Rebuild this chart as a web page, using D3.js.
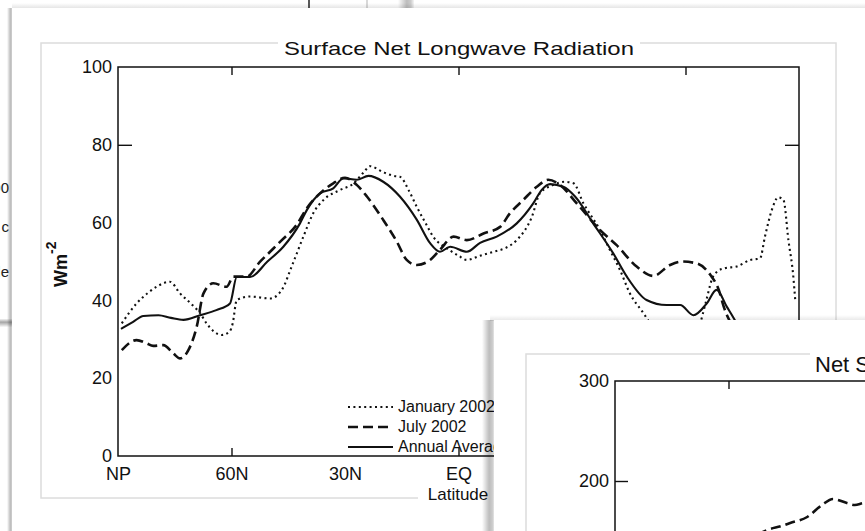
<!DOCTYPE html>
<html>
<head>
<meta charset="utf-8">
<script src="https://cdn.jsdelivr.net/npm/d3@7"></script>
<style>
  html, body { margin: 0; padding: 0; background: #fff; }
  svg { display: block; font-family: "Liberation Sans", Arial, Helvetica, sans-serif; }
</style>
</head>
<body>
<svg id="fig" width="865" height="531"></svg>
<script>
// ---- data -------------------------------------------------------------
// Latitude axis (North Pole to South Pole)
const latTicks  = [90, 60, 30, 0, -30, -60, -90];
const latLabels = ["NP", "60N", "30N", "EQ", "30S", "60S", "SP"];
const latMarks  = [60, 0, -60];          // tick marks drawn on the frame
const lwTicks   = [0, 20, 40, 60, 80, 100];
const lwMarks   = [80];

// Surface net longwave radiation, W m^-2, as [latitude, value]
const january2002 = [
  [89, 34.1], [85.1, 39.2], [82, 42], [79.8, 43.5], [76.3, 44.8], [73.6, 41.8],
  [70, 38.5], [68.3, 36.7], [66.6, 34.1], [62.6, 31.1], [60.5, 32], [59.7, 34],
  [58.6, 40.1], [55.1, 41], [49.8, 40.5], [46.7, 42.7], [44.1, 48.7], [41, 56.4],
  [38.4, 62.4], [35.7, 65.8], [31.3, 68.4], [27.8, 70], [25, 73], [23.4, 74.5],
  [20, 73], [17, 72], [15.5, 71.8], [13, 68], [11, 64], [8.5, 59.5], [6.7, 56.4],
  [3.1, 53.4], [0, 51.5], [-2.2, 50.4], [-5.7, 51.5], [-9.2, 52.5], [-12.5, 53.5],
  [-15.4, 55.5], [-19.4, 61.5], [-21.5, 67.5], [-25.1, 69.7], [-28, 70.5],
  [-30.4, 70.1], [-33, 65], [-37.4, 58.1], [-40, 53], [-42.7, 47.8], [-45.3, 41.8],
  [-48.9, 36.7], [-50.6, 34.2], [-53, 31], [-57, 28], [-61, 29.5], [-63.5, 33],
  [-65.5, 40], [-67, 45.5], [-68.5, 47.5], [-70.5, 48.3], [-73.5, 48.7],
  [-77.1, 50.4], [-79.7, 50.8], [-81, 56.4], [-82.8, 63.2], [-84.5, 66.5],
  [-85.9, 65.8], [-87.2, 55.5], [-88.5, 46.1], [-89, 40.1]
];
const july2002 = [
  [89, 27.2], [85.1, 29.8], [82.5, 29], [80.7, 28.3], [78, 28.5], [75.5, 26.5],
  [73.6, 25.1], [71.4, 27.2], [69.2, 33.2], [67.4, 41.8], [64.8, 44.4], [61.3, 43.5],
  [59.5, 46.1], [56, 46.1], [52.5, 49.9], [49.8, 52.5], [46.7, 55.5], [42.8, 59.4],
  [40.1, 63.7], [36.6, 67.5], [33.1, 70.1], [30, 71.5], [26.9, 69.7], [24.2, 66.7],
  [19.9, 60.7], [16.3, 55.1], [13.7, 50.4], [11, 49.1], [7.5, 50.4], [4.9, 53],
  [1.3, 56.4], [-2.2, 55.5], [-6.6, 57.2], [-11, 58.9], [-13.6, 62.4], [-17.1, 65.8],
  [-20.7, 69.2], [-23.7, 71], [-26.8, 69.7], [-31.2, 65], [-37.4, 58.1], [-41.8, 54.2],
  [-47.1, 48.7], [-51.5, 46.3], [-55.9, 49.1], [-59, 50], [-63, 49.5], [-66.6, 46.5],
  [-68.8, 42.7], [-70.1, 38.4], [-71.9, 34.2], [-74, 30]
];
const annualAverage = [
  [89, 32.8], [86, 34.5], [83.3, 36], [79.3, 36.2], [76, 35.5], [72.7, 35],
  [68.3, 36.2], [64, 37.5], [60.4, 39.2], [58.6, 46], [55.1, 46], [50.5, 50],
  [46.3, 53.8], [41.9, 59.8], [40.1, 63.2], [36.6, 67.5], [33.1, 68.8], [30.4, 71.4],
  [26.9, 71], [23.8, 72], [19.9, 70.5], [15.5, 66.7], [11, 60.7], [7.5, 54.7],
  [4.9, 52.5], [2.2, 53.8], [-2.2, 52.5], [-5.7, 54.8], [-10.1, 56.4], [-15.4, 59.8],
  [-19.8, 65], [-22, 68.4], [-24.2, 69.9], [-27.7, 69.2], [-30.8, 66.7], [-35.6, 59.8],
  [-40.9, 52.1], [-44.5, 46.1], [-49.7, 40.1], [-55, 38.8], [-58.6, 38.8], [-62.1, 36.2],
  [-65.6, 39.2], [-68.2, 42.7], [-70.9, 38.4], [-73.5, 34.1], [-76, 29]
];

const seriesNames = ["January 2002", "July 2002", "Annual Average"];

// Net shortwave radiation panel (W m^-2)
const swTicks = [0, 100, 200, 300];
const swMarks = [200];
const swJuly2002 = [
  [56, 140], [52, 147], [49.8, 151], [46, 155], [43.7, 158], [39.2, 164],
  [35.3, 176], [32.4, 182], [28.7, 178], [26.6, 176], [24, 178], [20, 172]
];

// ---- drawing ----------------------------------------------------------
const W = 865, H = 531;
const WIN2_X = 494, WIN2_Y = 320;   // top-left corner of the front window
const svg = d3.select("#fig");
const defs = svg.append("defs");

function gradient(id, vertical, stops) {
  const g = defs.append("linearGradient").attr("id", id)
    .attr("x1", 0).attr("y1", 0)
    .attr("x2", vertical ? 0 : 1).attr("y2", vertical ? 1 : 0);
  stops.forEach(([o, a]) => g.append("stop").attr("offset", o)
    .attr("stop-color", "#000").attr("stop-opacity", a));
}
gradient("edgeL", false, [[0, 0], [0.55, 0.26], [0.8, 0.2], [1, 0.04]]);
gradient("edgeT", true, [[0, 0], [1, 0.10]]);
gradient("barT", true, [[0, 0.05], [0.4, 0.35], [1, 0.02]]);

svg.append("rect").attr("width", W).attr("height", H).attr("fill", "#fff");

// windows lying behind the main figure
const back = svg.append("g");
back.append("line").attr("x1", 309).attr("x2", 309).attr("y1", 0).attr("y2", 9)
  .attr("stroke", "#222").attr("stroke-width", 1.5);
back.append("line").attr("x1", 367).attr("x2", 367).attr("y1", 0).attr("y2", 9)
  .attr("stroke", "#ccc").attr("stroke-width", 1.5);
back.append("rect").attr("x", 398).attr("y", 0).attr("width", 16).attr("height", 9)
  .attr("fill", "url(#edgeL)");
back.selectAll("text.frag")
  .data([["00", 193], ["c", 232], ["de", 277]])
  .join("text").attr("class", "frag")
  .attr("x", 9).attr("y", d => d[1])
  .attr("text-anchor", "end").attr("font-size", 15).attr("fill", "#222")
  .text(d => d[0]);
back.append("rect").attr("x", 0).attr("y", 319).attr("width", 12).attr("height", 8)
  .attr("fill", "url(#barT)");

// main figure window
svg.append("rect").attr("x", 7).attr("y", 8).attr("width", 6).attr("height", H - 8)
  .attr("fill", "url(#edgeL)");
svg.append("rect").attr("x", 12).attr("y", 3).attr("width", W - 12).attr("height", 5)
  .attr("fill", "url(#edgeT)");
svg.append("rect").attr("x", 12).attr("y", 8).attr("width", W - 12).attr("height", H - 8)
  .attr("fill", "#fff");
svg.append("rect").attr("x", 41).attr("y", 43).attr("width", 795).attr("height", 455)
  .attr("fill", "none").attr("stroke", "#dcdcdc").attr("stroke-width", 1.5);

const styles = [
  { dash: "2,3.4", width: 2.1, cap: "butt" },   // January
  { dash: "10,5",  width: 2.6, cap: "butt" },   // July
  { dash: null,    width: 2.1, cap: "round" }   // Annual
];

const x = d3.scaleLinear().domain([90, -90]).range([118, 799]);
const y = d3.scaleLinear().domain([0, 100]).range([456, 67]);

const main = svg.append("g");

function plain(g) { g.select(".domain").remove(); }

// tick labels (those under the front window are left out)
const shownLat = latTicks.filter(d => x(d) < WIN2_X);
main.append("g").attr("transform", "translate(0,456)")
  .call(d3.axisBottom(x).tickValues(shownLat).tickSize(0).tickPadding(11)
    .tickFormat(d => latLabels[latTicks.indexOf(d)]))
  .call(plain)
  .call(g => g.selectAll("text").attr("font-size", 18).attr("fill", "#111")
    .attr("font-family", null));
main.append("g").attr("transform", "translate(118,0)")
  .call(d3.axisLeft(y).tickValues(lwTicks).tickSize(0).tickPadding(6))
  .call(plain)
  .call(g => g.selectAll("text").attr("font-size", 18).attr("fill", "#111")
    .attr("font-family", null));

// inward tick marks on all four sides
const tickStyle = g => g.call(plain).call(s => s.selectAll("text").remove())
  .call(s => s.selectAll("line").attr("stroke", "#111").attr("stroke-width", 1.4));
main.append("g").attr("transform", "translate(0,456)")
  .call(d3.axisBottom(x).tickValues(latMarks).tickSize(-8)).call(tickStyle);
main.append("g").attr("transform", "translate(0,67)")
  .call(d3.axisTop(x).tickValues(latMarks).tickSize(-8)).call(tickStyle);
main.append("g").attr("transform", "translate(118,0)")
  .call(d3.axisLeft(y).tickValues(lwMarks).tickSize(-14)).call(tickStyle);
main.append("g").attr("transform", "translate(799,0)")
  .call(d3.axisRight(y).tickValues(lwMarks).tickSize(-14)).call(tickStyle);

main.append("rect").attr("x", 118).attr("y", 67).attr("width", 681).attr("height", 389)
  .attr("fill", "none").attr("stroke", "#111").attr("stroke-width", 1.5);

// curves
const line = d3.line().x(d => x(d[0])).y(d => y(d[1])).curve(d3.curveMonotoneX);
[january2002, july2002, annualAverage].forEach((data, i) => {
  main.append("path").datum(data)
    .attr("d", line)
    .attr("fill", "none").attr("stroke", "#111")
    .attr("stroke-width", styles[i].width)
    .attr("stroke-dasharray", styles[i].dash)
    .attr("stroke-linecap", styles[i].cap)
    .attr("stroke-linejoin", "round");
});

// title
main.append("rect").attr("x", 278).attr("y", 38).attr("width", 362).attr("height", 10)
  .attr("fill", "#fff");
main.append("text").attr("x", 459).attr("y", 55).attr("text-anchor", "middle")
  .attr("font-size", 19).attr("fill", "#111")
  .attr("textLength", 350).attr("lengthAdjust", "spacingAndGlyphs")
  .text("Surface Net Longwave Radiation");

// axis titles
main.append("rect").attr("x", 418).attr("y", 494).attr("width", 76).attr("height", 8)
  .attr("fill", "#fff");
main.append("text").attr("x", 458).attr("y", 500).attr("text-anchor", "middle")
  .attr("font-size", 17).attr("fill", "#111").text("Latitude");

const yl = main.append("text")
  .attr("transform", "translate(67,287) rotate(-90)")
  .attr("font-size", 18).attr("font-weight", "bold").attr("fill", "#111");
yl.append("tspan").text("Wm");
yl.append("tspan").attr("dy", -11).attr("font-size", 14).text("-2");

// legend
const legend = main.append("g");
seriesNames.forEach((name, i) => {
  const ly = 407 + i * 20;
  legend.append("line").attr("x1", 348).attr("x2", 393).attr("y1", ly).attr("y2", ly)
    .attr("stroke", "#111").attr("stroke-width", styles[i].width)
    .attr("stroke-dasharray", styles[i].dash);
  legend.append("text").attr("x", 398).attr("y", ly + 5)
    .attr("font-size", 16).attr("fill", "#111").text(name);
});

// second figure window on top
const win2 = svg.append("g");
win2.append("rect").attr("x", WIN2_X - 12).attr("y", WIN2_Y).attr("width", 13).attr("height", H - WIN2_Y)
  .attr("fill", "url(#edgeL)");
win2.append("rect").attr("x", WIN2_X - 4).attr("y", WIN2_Y - 5).attr("width", W - WIN2_X + 4).attr("height", 6)
  .attr("fill", "url(#edgeT)");
win2.append("rect").attr("x", WIN2_X).attr("y", WIN2_Y).attr("width", W - WIN2_X).attr("height", H - WIN2_Y)
  .attr("fill", "#fff");
win2.append("rect").attr("x", 526).attr("y", 354).attr("width", 795).attr("height", 455)
  .attr("fill", "none").attr("stroke", "#dcdcdc").attr("stroke-width", 1.5);

const x2 = d3.scaleLinear().domain([90, -90]).range([615, 1296]);
const y2 = d3.scaleLinear().domain([0, 300]).range([681, 381]);

win2.append("g").attr("transform", "translate(615,0)")
  .call(d3.axisLeft(y2).tickValues(swTicks.filter(d => y2(d) < H)).tickSize(0).tickPadding(6))
  .call(plain)
  .call(g => g.selectAll("text").attr("font-size", 18).attr("fill", "#111")
    .attr("font-family", null));
win2.append("g").attr("transform", "translate(615,0)")
  .call(d3.axisLeft(y2).tickValues(swMarks).tickSize(-13)).call(tickStyle);
win2.append("g").attr("transform", "translate(0,381)")
  .call(d3.axisTop(x2).tickValues(latMarks).tickSize(-8)).call(tickStyle);
win2.append("rect").attr("x", 615).attr("y", 381).attr("width", 681).attr("height", 300)
  .attr("fill", "none").attr("stroke", "#111").attr("stroke-width", 1.5);

win2.append("rect").attr("x", 810).attr("y", 350).attr("width", 60).attr("height", 8)
  .attr("fill", "#fff");
win2.append("text").attr("x", 815).attr("y", 372)
  .attr("font-size", 22).attr("fill", "#111")
  .text("Net Shortwave Radiation");

const line2 = d3.line().x(d => x2(d[0])).y(d => y2(d[1])).curve(d3.curveMonotoneX);
win2.append("path").datum(swJuly2002)
  .attr("d", line2).attr("fill", "none").attr("stroke", "#111")
  .attr("stroke-width", 2.6).attr("stroke-dasharray", "10,5");
</script>
</body>
</html>
